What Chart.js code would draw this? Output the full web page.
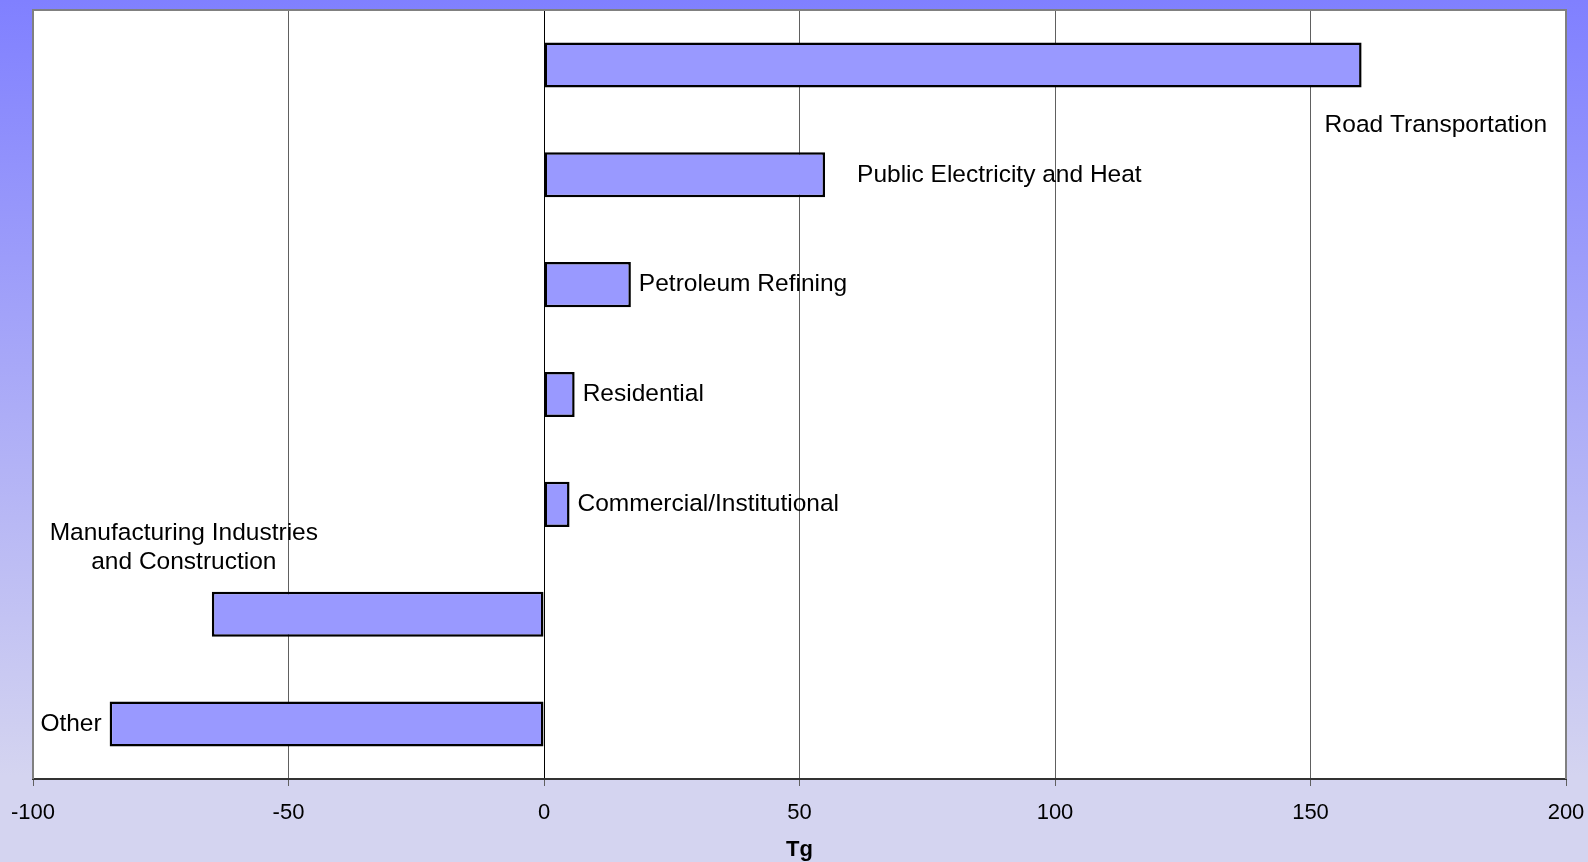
<!DOCTYPE html>
<html>
<head>
<meta charset="utf-8">
<script src="https://cdn.jsdelivr.net/npm/chart.js@4/dist/chart.umd.min.js"></script>
<style>
  html, body { margin: 0; padding: 0; background: #d4d4f0; }
  canvas { display: block; }
</style>
</head>
<body>
<canvas id="chart" width="1588" height="862"></canvas>
<script>
// Change in emissions by source category (Tg)
const categories = [
  'Road Transportation',
  'Public Electricity and Heat',
  'Petroleum Refining',
  'Residential',
  'Commercial/Institutional',
  'Manufacturing Industries and Construction',
  'Other'
];
const changeTg = [160, 55, 17, 6, 5, -65, -85];
const xTicks = [-100, -50, 0, 50, 100, 150, 200];
const axisTitle = 'Tg';

// How each category label is set beside its bar
const labelLines = [
  ['Road Transportation'],
  ['Public Electricity and Heat'],
  ['Petroleum Refining'],
  ['Residential'],
  ['Commercial/Institutional'],
  ['Manufacturing Industries', 'and Construction'],
  ['Other']
];
const labelPlacement = [
  { side: 'below', dx: -37, dy: 60 },
  { side: 'right', dx: 32, dy: 0 },
  { side: 'right', dx: 8, dy: 0 },
  { side: 'right', dx: 8, dy: 0 },
  { side: 'right', dx: 8, dy: 0 },
  { side: 'above', dx: -28, dy: -81, lineGap: 29 },
  { side: 'left', dx: -8, dy: 0 }
];

const FONT = "'Liberation Sans', Arial, sans-serif";

const frame = {
  id: 'frame',
  beforeDraw(chart) {
    const { ctx, width, height, chartArea: a } = chart;
    ctx.save();
    const g = ctx.createLinearGradient(0, 0, 0, height);
    g.addColorStop(0, '#8080ff');
    g.addColorStop(0.9, '#d4d4f0');
    g.addColorStop(1, '#d4d4f0');
    ctx.fillStyle = g;
    ctx.fillRect(0, 0, width, height);
    ctx.fillStyle = '#ffffff';
    ctx.fillRect(a.left, a.top, a.right - a.left, a.bottom - a.top);
    ctx.restore();
  },
  afterDraw(chart) {
    const { ctx, chartArea: a } = chart;
    ctx.save();
    ctx.strokeStyle = '#808080';
    ctx.lineWidth = 2;
    ctx.beginPath();
    ctx.moveTo(a.left, a.bottom);
    ctx.lineTo(a.left, a.top);
    ctx.lineTo(a.right, a.top);
    ctx.lineTo(a.right, a.bottom);
    ctx.stroke();
    ctx.restore();
  }
};

const barLabels = {
  id: 'barLabels',
  afterDatasetsDraw(chart) {
    const { ctx, scales } = chart;
    const x = scales.x, y = scales.y;
    ctx.save();
    ctx.font = '24.5px ' + FONT;
    ctx.fillStyle = '#000000';
    ctx.textBaseline = 'middle';
    changeTg.forEach((v, i) => {
      const p = labelPlacement[i];
      const end = x.getPixelForValue(v);
      const cy = y.getPixelForValue(i);
      const lines = labelLines[i];
      if (p.side === 'right' || p.side === 'below') {
        ctx.textAlign = 'left';
        ctx.fillText(lines[0], end + p.dx, cy + p.dy);
      } else if (p.side === 'left') {
        ctx.textAlign = 'right';
        ctx.fillText(lines[0], end + p.dx, cy + p.dy);
      } else {
        ctx.textAlign = 'center';
        lines.forEach((t, k) => ctx.fillText(t, end + p.dx, cy + p.dy + k * p.lineGap));
      }
    });
    ctx.restore();
  }
};

new Chart(document.getElementById('chart'), {
  type: 'bar',
  data: {
    labels: categories,
    datasets: [{
      data: changeTg,
      backgroundColor: '#9999ff',
      borderColor: '#000000',
      borderWidth: 2.5,
      borderSkipped: false,
      barPercentage: 0.41,
      categoryPercentage: 1.0
    }]
  },
  options: {
    indexAxis: 'y',
    responsive: false,
    animation: false,
    layout: { padding: { left: 33, right: 22, top: 10, bottom: 0 } },
    plugins: {
      legend: { display: false },
      tooltip: { enabled: false }
    },
    scales: {
      x: {
        type: 'linear',
        min: xTicks[0],
        max: xTicks[xTicks.length - 1],
        afterBuildTicks(scale) {
          scale.ticks = xTicks.map(v => ({ value: v }));
        },
        afterFit(scale) {
          scale.height = 83;
          scale.paddingLeft = 0;
          scale.paddingRight = 0;
        },
        grid: {
          color: (c) => (c.tick && c.tick.value === 0 ? '#000000' : '#606060'),
          lineWidth: 1,
          drawTicks: true,
          tickLength: 7,
          tickColor: '#606060'
        },
        border: { display: true, color: '#333333', width: 2 },
        ticks: {
          padding: 14,
          color: '#000000',
          font: { family: FONT, size: 22 },
          callback: (v) => String(v)
        },
        title: {
          display: true,
          text: axisTitle,
          color: '#000000',
          font: { family: FONT, size: 22, weight: 'bold' },
          padding: { top: 0, bottom: -1 }
        }
      },
      y: {
        display: false,
        grid: { display: false }
      }
    }
  },
  plugins: [frame, barLabels]
});
</script>
</body>
</html>
